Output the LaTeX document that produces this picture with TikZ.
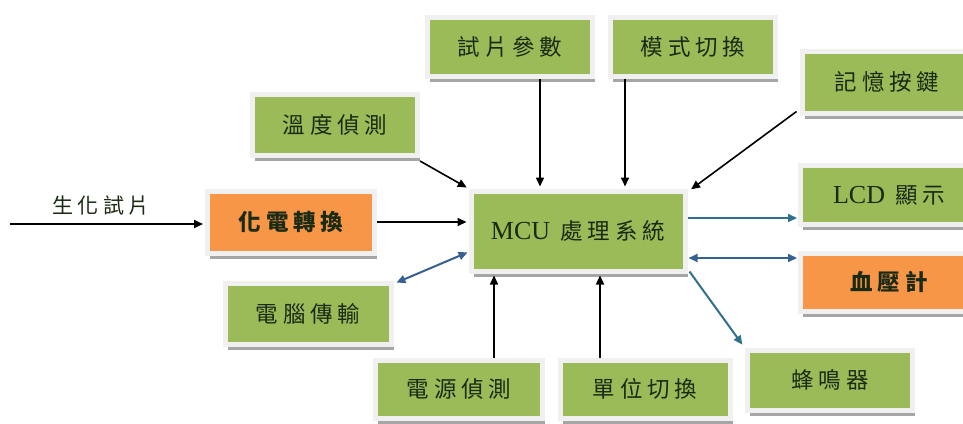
\documentclass[tikz,border=0pt]{standalone}
\usepackage{fontspec}
\setmainfont{Liberation Serif}
\newfontfamily\cjk{Noto Sans CJK TC}[LetterSpace=22]
\usetikzlibrary{arrows.meta,shadows,calc}
\definecolor{boxgreen}{HTML}{9BBB59}
\definecolor{boxorange}{HTML}{F79646}
\definecolor{boxrim}{HTML}{F0F0F0}
\definecolor{teal1}{HTML}{31708A}
\definecolor{blue1}{HTML}{366092}
\definecolor{txt}{HTML}{1A2A14}
\tikzset{
  box/.style={draw=boxrim, line width=5pt, fill=boxgreen, inner sep=0pt,
    general shadow={shadow xshift=2.8pt, shadow yshift=-5.5pt, fill=black!35},
    text=txt, font=\cjk\fontsize{22.5}{24}\selectfont},
  obox/.style={box, fill=boxorange, font=\cjk\bfseries\fontsize{22.5}{24}\selectfont},
  arr/.style={line width=1.6pt, -{Triangle[length=9pt,width=8pt]}, shorten >=2pt},
  tarr/.style={line width=2pt, draw=teal1, -{Triangle[length=9pt,width=8pt]}, shorten >=1pt},
  darr/.style={line width=2pt, draw=blue1, {Triangle[length=9pt,width=8pt]}-{Triangle[length=9pt,width=8pt]}, shorten >=1pt, shorten <=1pt}
}
\begin{document}
\begin{tikzpicture}[x=1pt,y=-1pt]
\useasboundingbox (0,0) rectangle (963,423);
\node[box, minimum width=165pt, minimum height=59pt] (shipian) at (510,47) {試片參數};
\node[box, minimum width=165pt, minimum height=59pt] (moshi) at (693,47) {模式切換};
\node[box, minimum width=165pt, minimum height=61pt] (wendu) at (335,125) {溫度偵測};
\node[box, minimum width=170pt, minimum height=62pt] (jiyi) at (887,82) {記憶按鍵};
\node[obox, minimum width=167pt, minimum height=62pt] (huadian) at (291,222) {化電轉換};
\node[box, minimum width=214pt, minimum height=80pt] (mcu) at (578,231) {{\rmfamily\fontsize{26}{28}\selectfont MCU} 處理系統};
\node[box, minimum width=177pt, minimum height=59pt] (lcd) at (889,195) {{\rmfamily\fontsize{26}{28}\selectfont LCD} 顯示};
\node[obox, minimum width=177pt, minimum height=58pt] (xueya) at (889,282) {血壓計};
\node[box, minimum width=166pt, minimum height=61pt] (diannao) at (308,314) {電腦傳輸};
\node[box, minimum width=167pt, minimum height=58pt] (dianyuan) at (459,389) {電源偵測};
\node[box, minimum width=170pt, minimum height=58pt] (danwei) at (645,389) {單位切換};
\node[box, minimum width=165pt, minimum height=60pt] (fengming) at (830,380) {蜂鳴器};
\coordinate (start) at (10,224);
\node[font=\cjk\fontsize{21}{23}\selectfont, text=txt] (lbl) at (101,206) {生化試片};
\draw[arr] (start) -- (start -| huadian.west);
\draw[arr] (huadian.east) -- (huadian.east -| mcu.west);
\draw[arr] ([yshift=-3pt]wendu.south east) -- (mcu.north west);
\draw[arr] ([xshift=30pt]shipian.south) -- ([xshift=30pt]shipian.south |- mcu.north);
\draw[arr] ([xshift=-68pt]moshi.south) -- ([xshift=-68pt]moshi.south |- mcu.north);
\draw[arr] ([xshift=-3pt,yshift=4pt]jiyi.south west) -- ([xshift=2pt,yshift=-2pt]mcu.north east);
\draw[tarr] ([yshift=13pt]mcu.east) -- ([yshift=13pt]mcu.east -| lcd.west);
\draw[darr] ([yshift=-27pt]mcu.east) -- ([yshift=-27pt]mcu.east -| xueya.west);
\draw[tarr] ([xshift=2pt,yshift=2pt]mcu.south east) -- ([xshift=-2pt,yshift=2pt]fengming.north west);
\draw[darr] ([xshift=2pt,yshift=-2pt]diannao.north east) -- ([yshift=-21pt]mcu.west);
\draw[arr] ([xshift=35pt]dianyuan.north) -- ([xshift=35pt]dianyuan.north |- mcu.south);
\draw[arr] ([xshift=-45pt]danwei.north) -- ([xshift=-45pt]danwei.north |- mcu.south);
\end{tikzpicture}
\end{document}
